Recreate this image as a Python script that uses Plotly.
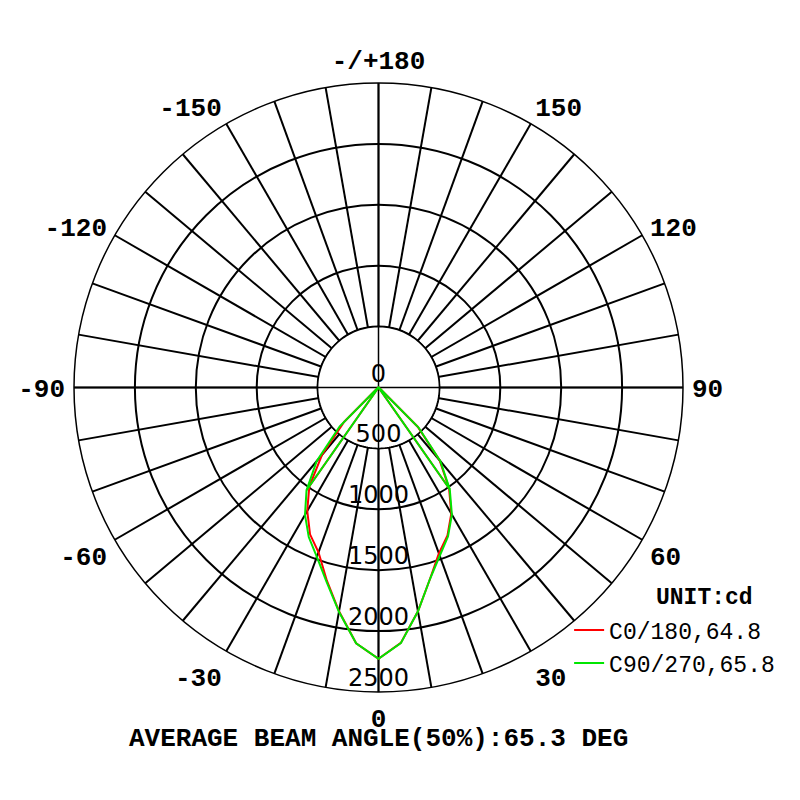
import numpy as np
import plotly.graph_objects as go

# gamma angle (deg), negative = left half of the plane
gamma = [-90, -85, -80, -75, -70, -65, -60, -55, -50, -45, -40, -35, -30, -25, -20, -15, -10, -5,
         0, 5, 10, 15, 20, 25, 30, 35, 40, 45, 50, 55, 60, 65, 70, 75, 80, 85, 90]

c0_180 = [0, 0, 0, 0, 0, 0, 0, 0, 20, 400, 720, 990, 1170, 1330, 1440, 1640, 1866, 2108,
          2228, 2105, 1866, 1630, 1450, 1340, 1195, 1010, 780, 455, 20, 0, 0, 0, 0, 0, 0, 0, 0]
c90_270 = [0, 0, 0, 0, 0, 0, 0, 0, 25, 450, 790, 1030, 1207, 1355, 1480, 1650, 1870, 2108,
           2228, 2107, 1866, 1630, 1470, 1350, 1205, 1020, 790, 465, 25, 0, 0, 0, 0, 0, 0, 0, 0]

rings = [0, 500, 1000, 1500, 2000, 2500]
ang_ticks = list(range(0, 360, 10))
ang_labels = {0: '0', 30: '30', 60: '60', 90: '90', 120: '120', 150: '150', 180: '-/+180',
              210: '-150', 240: '-120', 270: '-90', 300: '-60', 330: '-30'}

labels = [("C0/180,64.8", c0_180, "#ff0000"), ("C90/270,65.8", c90_270, "#00e600")]

fig = go.Figure()

# white disc hides the spokes inside the 500 ring
circ = np.linspace(0, 360, 181)
fig.add_trace(go.Scatterpolar(theta=circ, r=[500] * len(circ), mode="lines", fill="toself",
                              fillcolor="white", line=dict(color="black", width=1.5),
                              showlegend=False, hoverinfo="skip"))
# the four main axes go through the centre
fig.add_trace(go.Scatterpolar(theta=[0, 180, None, 90, 270], r=[2500, 2500, None, 2500, 2500],
                              mode="lines", line=dict(color="black", width=1.5),
                              showlegend=False, hoverinfo="skip"))
fig.add_trace(go.Scatterpolar(theta=[0] * len(rings), r=rings, mode="text",
                              text=[str(v) for v in rings], textposition="top center",
                              textfont=dict(family="DejaVu Sans", size=24, color="black"),
                              cliponaxis=False, showlegend=False, hoverinfo="skip"))

for name, vals, col in labels:
    fig.add_trace(go.Scatterpolar(theta=gamma, r=vals, mode="lines", name=name,
                                  legendgroup=name, line=dict(color=col, width=2)))
    i1, i2 = gamma.index(-35), gamma.index(35)
    fig.add_trace(go.Scatterpolar(theta=[-35, 0, 35], r=[vals[i1], 0, vals[i2]], mode="lines",
                                  legendgroup=name, showlegend=False,
                                  line=dict(color=col, width=2)))

fig.update_layout(
    width=800, height=800,
    margin=dict(l=66, r=125, t=75, b=116),
    paper_bgcolor="white",
    polar=dict(
        bgcolor="white",
        angularaxis=dict(rotation=270, direction="counterclockwise",
                         tickvals=ang_ticks, ticktext=[ang_labels.get(a, "") for a in ang_ticks],
                         tickfont=dict(family="Liberation Mono", size=26, color="black", weight="bold"),
                         showline=True, linecolor="black", linewidth=1.5,
                         showgrid=True, gridcolor="black", gridwidth=1.5,
                         ticks="outside", ticklen=3, tickcolor="rgba(0,0,0,0)"),
        radialaxis=dict(range=[0, 2500], tickvals=rings[1:], showticklabels=False, ticks="",
                        showline=False, showgrid=True, gridcolor="black", gridwidth=1.5),
    ),
    legend=dict(x=0.813, y=0.137, xanchor="left", yanchor="top", bgcolor="rgba(0,0,0,0)",
                tracegroupgap=0,
                font=dict(family="Liberation Mono", size=23, color="black")),
    annotations=[
        dict(text="<b>UNIT:cd</b>", x=1.035, y=0.155, xref="paper", yref="paper", showarrow=False,
             xanchor="center", yanchor="middle",
             font=dict(family="Liberation Mono", size=23, color="black")),
        dict(text="<b>AVERAGE BEAM ANGLE(50%):65.3 DEG</b>", x=0.4995, y=-0.077,
             xref="paper", yref="paper", showarrow=False, xanchor="center", yanchor="middle",
             font=dict(family="Liberation Mono", size=26, color="black")),
    ],
)

fig.write_html("out.html")
